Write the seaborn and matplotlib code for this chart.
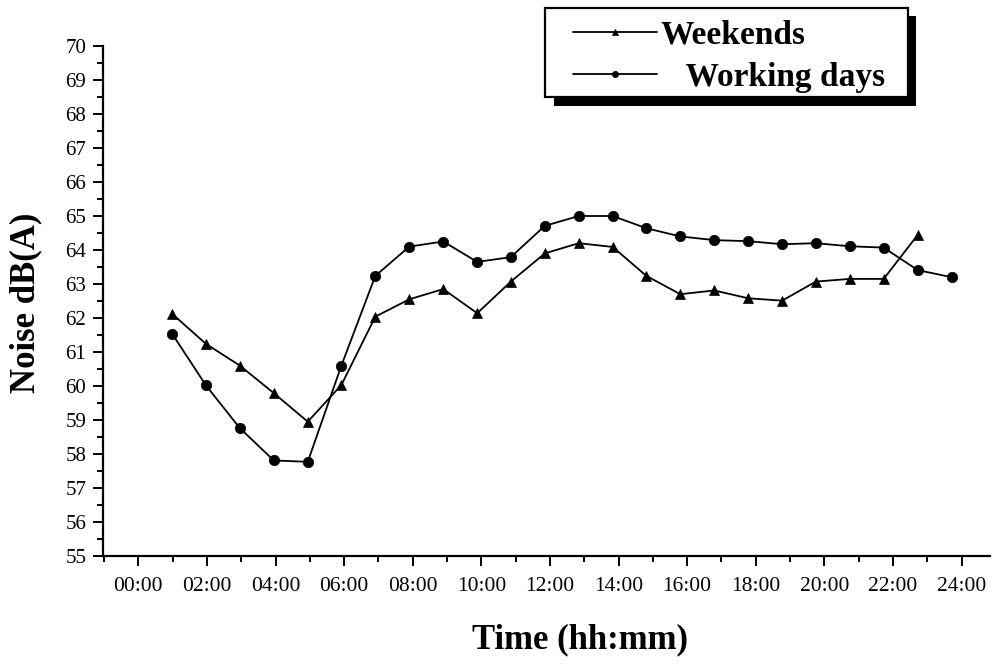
import numpy as np
import pandas as pd
import matplotlib
matplotlib.use("Agg")
import matplotlib.pyplot as plt
from matplotlib.ticker import MultipleLocator
from matplotlib.patches import Rectangle
import seaborn as sns

# ---- data ----
hours = [0.99, 1.97, 2.96, 3.95, 4.94, 5.92, 6.91, 7.90, 8.89, 9.88, 10.86, 11.85,
         12.84, 13.83, 14.81, 15.80, 16.79, 17.78, 18.77, 19.75, 20.74, 21.73, 22.72, 23.71]
weekends = [62.12, 61.24, 60.60, 59.79, 58.95, 60.03, 62.04, 62.55, 62.85, 62.14, 63.07, 63.90,
            64.20, 64.09, 63.24, 62.70, 62.81, 62.58, 62.51, 63.07, 63.15, 63.15, 64.44]
working = [61.53, 60.02, 58.76, 57.81, 57.77, 60.60, 63.24, 64.10, 64.25, 63.65, 63.79, 64.71,
           65.00, 65.00, 64.64, 64.40, 64.29, 64.26, 64.17, 64.20, 64.11, 64.07, 63.41, 63.20]
xtick_vals = list(range(0, 25, 2))
xtick_labels = [f"{h:02d}:00" for h in xtick_vals]
series_names = ["Weekends", "Working days"]
legend_labels = ["Weekends", "   Working days"]

df = pd.concat([
    pd.DataFrame({"hour": hours[:len(weekends)], "noise": weekends, "series": series_names[0]}),
    pd.DataFrame({"hour": hours[:len(working)], "noise": working, "series": series_names[1]}),
], ignore_index=True)

sns.set_style("ticks")
plt.rcParams["font.family"] = ["Liberation Serif", "DejaVu Serif"]
plt.rcParams["text.color"] = "black"
plt.rcParams["axes.labelcolor"] = "black"

W, H = 995, 666
fig = plt.figure(figsize=(W / 100, H / 100), dpi=100)
ax = fig.add_axes([103 / W, 1 - 556 / H, (990 - 103) / W, (556 - 46) / H])

sns.lineplot(data=df, x="hour", y="noise", hue="series", style="series",
             palette={series_names[0]: "black", series_names[1]: "black"},
             markers={series_names[0]: "^", series_names[1]: "o"},
             dashes=False, linewidth=1.3, markersize=7.5,
             markeredgecolor="black", markeredgewidth=0.5,
             sort=True, estimator=None, ax=ax, legend=True)

ax.set_xlim(-1.03, 24.83)
ax.set_ylim(55, 70)
ax.set_xticks(xtick_vals)
ax.set_xticklabels(xtick_labels)
ax.xaxis.set_minor_locator(MultipleLocator(1))
ax.yaxis.set_major_locator(MultipleLocator(1))
ax.yaxis.set_minor_locator(MultipleLocator(0.5))

for s in ["top", "right"]:
    ax.spines[s].set_visible(False)
for s in ["left", "bottom"]:
    ax.spines[s].set_linewidth(1.6)
    ax.spines[s].set_color("black")

ax.tick_params(axis="both", which="major", direction="out", length=7, width=1.4,
               colors="black", labelsize=15)
ax.tick_params(axis="x", which="major", labelsize=15.5, pad=8)
ax.tick_params(axis="both", which="minor", direction="out", length=4, width=1.4, colors="black")
ax.tick_params(axis="y", which="major", pad=5)

ax.set_xlabel("Time (hh:mm)", fontsize=25, fontweight="bold", color="black")
ax.set_ylabel("Noise dB(A)", fontsize=25, fontweight="bold", color="black")
ax.xaxis.set_label_coords((580 - 103) / 887, (556 - 640) / 510)
ax.xaxis.label.set_va("center")
ax.yaxis.set_label_coords((26 - 103) / 887, (556 - 303) / 510)
ax.yaxis.label.set_va("center")

# legend frame with solid black drop shadow (figure pixel coordinates)
shadow = Rectangle((554 / W, 1 - 106 / H), (916 - 554) / W, (106 - 16) / H,
                   transform=fig.transFigure, facecolor="black", edgecolor="none", zorder=5)
frame = Rectangle((545 / W, 1 - 97 / H), (908 - 545) / W, (97 - 8) / H,
                  transform=fig.transFigure, facecolor="white", edgecolor="black",
                  linewidth=1.6, zorder=6)
fig.patches.extend([shadow, frame])

handles, labels = ax.get_legend_handles_labels()
hmap = dict(zip(labels, handles))
ax.get_legend().remove()
leg = fig.legend([hmap[n] for n in series_names], legend_labels,
                 loc="upper left", bbox_to_anchor=(573 / W, 1 - 20 / H),
                 bbox_transform=fig.transFigure, borderaxespad=0,
                 prop={"family": ["Liberation Serif"], "weight": "bold", "size": 24},
                 frameon=False, handlelength=2.52, handletextpad=0.12,
                 labelspacing=0.33, borderpad=0, markerscale=0.6)
leg.set_zorder(7)
for t in leg.get_texts():
    t.set_color("black")

fig.savefig("out.png", dpi=100)
